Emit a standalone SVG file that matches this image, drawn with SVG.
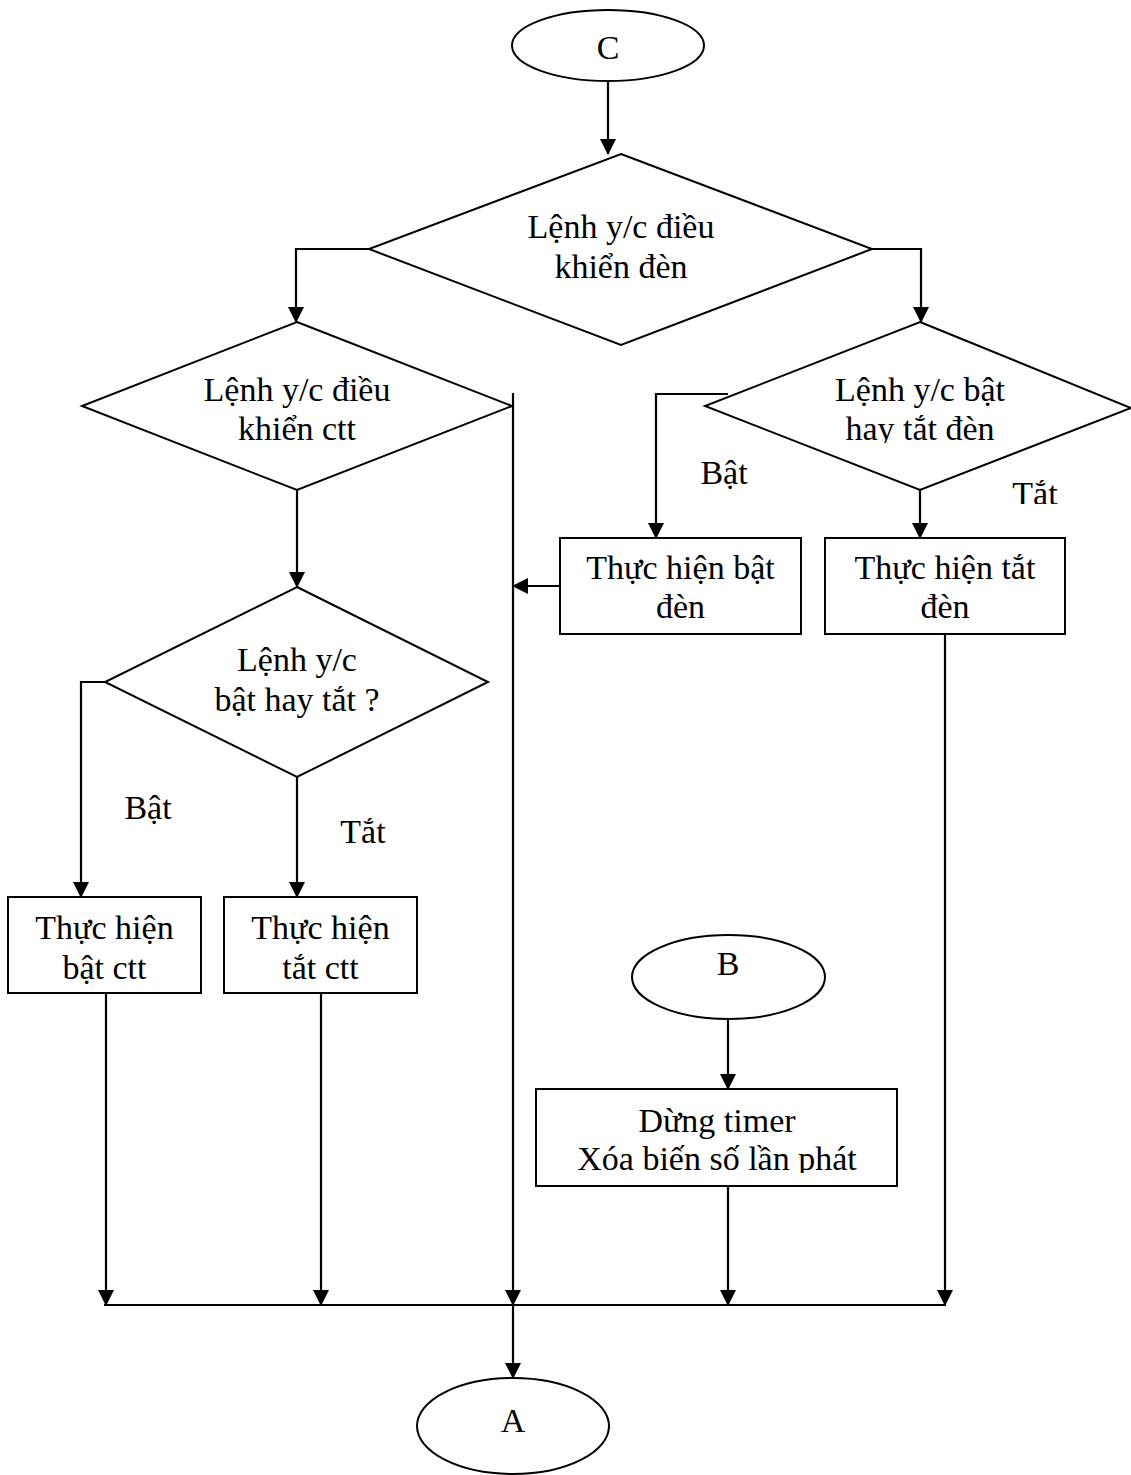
<svg xmlns="http://www.w3.org/2000/svg" width="1131" height="1475" viewBox="0 0 1131 1475">
<style>
.s{fill:#fff;stroke:#000;stroke-width:2}
.c{fill:none;stroke:#000;stroke-width:2.2;marker-end:url(#ah)}
.l{fill:none;stroke:#000;stroke-width:2.2}
text{font-family:"Liberation Serif","Times New Roman",serif;font-size:34px;fill:#000;text-anchor:middle}
</style>
<defs>
<marker id="ah" markerUnits="userSpaceOnUse" markerWidth="16" markerHeight="16" refX="15" refY="8" orient="auto">
<path d="M0,0 L16,8 L0,16 z" fill="#000"/>
</marker>
<clipPath id="k1"><rect x="0" y="0" width="1131" height="443"/></clipPath>
<clipPath id="k2"><rect x="0" y="0" width="1058" height="504"/></clipPath>
<clipPath id="k3"><rect x="0" y="0" width="1131" height="1173"/></clipPath>
</defs>
<rect width="1131" height="1475" fill="#fff"/>
<g id="connectors">
<path class="c" d="M608,81 V154"/>
<path class="c" d="M369,249 H296 V322"/>
<path class="c" d="M872,249 H921 V322"/>
<path class="c" d="M297,490 V587"/>
<path class="c" d="M105,682 H81 V897"/>
<path class="c" d="M297,777 V897"/>
<path class="c" d="M728,394 H656 V538"/>
<path class="c" d="M920,490 V538"/>
<path class="c" d="M560,586 H513"/>
<path class="c" d="M513,393 V1305"/>
<path class="c" d="M106,993 V1305"/>
<path class="c" d="M321,993 V1305"/>
<path class="c" d="M728,1186 V1305"/>
<path class="c" d="M945,634 V1305"/>
<path class="l" d="M104,1305 H946"/>
<path class="c" d="M513,1305 V1378"/>
<path class="c" d="M728,1019 V1089"/>
</g>
<g id="C"><ellipse class="s" cx="608" cy="45.5" rx="96" ry="35.5"/><text x="608" y="59">C</text></g>
<g id="d_top"><polygon class="s" points="621,154 872,249 621,345 369,249"/><text x="621" y="238">Lệnh y/c điều</text><text x="621" y="278">khiển đèn</text></g>
<g id="d_ctt"><polygon class="s" points="297,322 512,406 297,490 82,406"/><text x="297" y="401">Lệnh y/c điều</text><text x="297" y="440">khiển ctt</text></g>
<g id="d_den"><polygon class="s" points="920,322 1131,408 920,490 705,406"/><text x="920" y="401">Lệnh y/c bật</text><text x="920" y="440" clip-path="url(#k1)">hay tắt đèn</text></g>
<g id="lbl_bat_den"><text x="724" y="484">Bật</text></g>
<g id="lbl_tat_den"><text x="1035" y="505" clip-path="url(#k2)">Tắt</text></g>
<g id="b_bat_den"><rect class="s" x="560" y="538" width="241" height="96"/><text x="680.5" y="579">Thực hiện bật</text><text x="680.5" y="618">đèn</text></g>
<g id="b_tat_den"><rect class="s" x="825" y="538" width="240" height="96"/><text x="945" y="579">Thực hiện tắt</text><text x="945" y="618">đèn</text></g>
<g id="d_bat_tat"><polygon class="s" points="297,587 488,682 297,777 105,682"/><text x="297" y="671">Lệnh y/c</text><text x="297" y="711">bật hay tắt ?</text></g>
<g id="lbl_bat_ctt"><text x="148" y="819">Bật</text></g>
<g id="lbl_tat_ctt"><text x="363" y="843">Tắt</text></g>
<g id="b_bat_ctt"><rect class="s" x="8" y="897" width="193" height="96"/><text x="104.5" y="939">Thực hiện</text><text x="104.5" y="979">bật ctt</text></g>
<g id="b_tat_ctt"><rect class="s" x="224" y="897" width="193" height="96"/><text x="320.5" y="939">Thực hiện</text><text x="320.5" y="979">tắt ctt</text></g>
<g id="B"><ellipse class="s" cx="728.5" cy="977" rx="96.5" ry="42"/><text x="728" y="975">B</text></g>
<g id="b_timer"><rect class="s" x="536" y="1089" width="361" height="97"/><text x="717" y="1132">Dừng timer</text><text x="717" y="1170" clip-path="url(#k3)">Xóa biến số lần phát</text></g>
<g id="A"><ellipse class="s" cx="513" cy="1426" rx="96" ry="48"/><text x="513" y="1432">A</text></g>
</svg>
